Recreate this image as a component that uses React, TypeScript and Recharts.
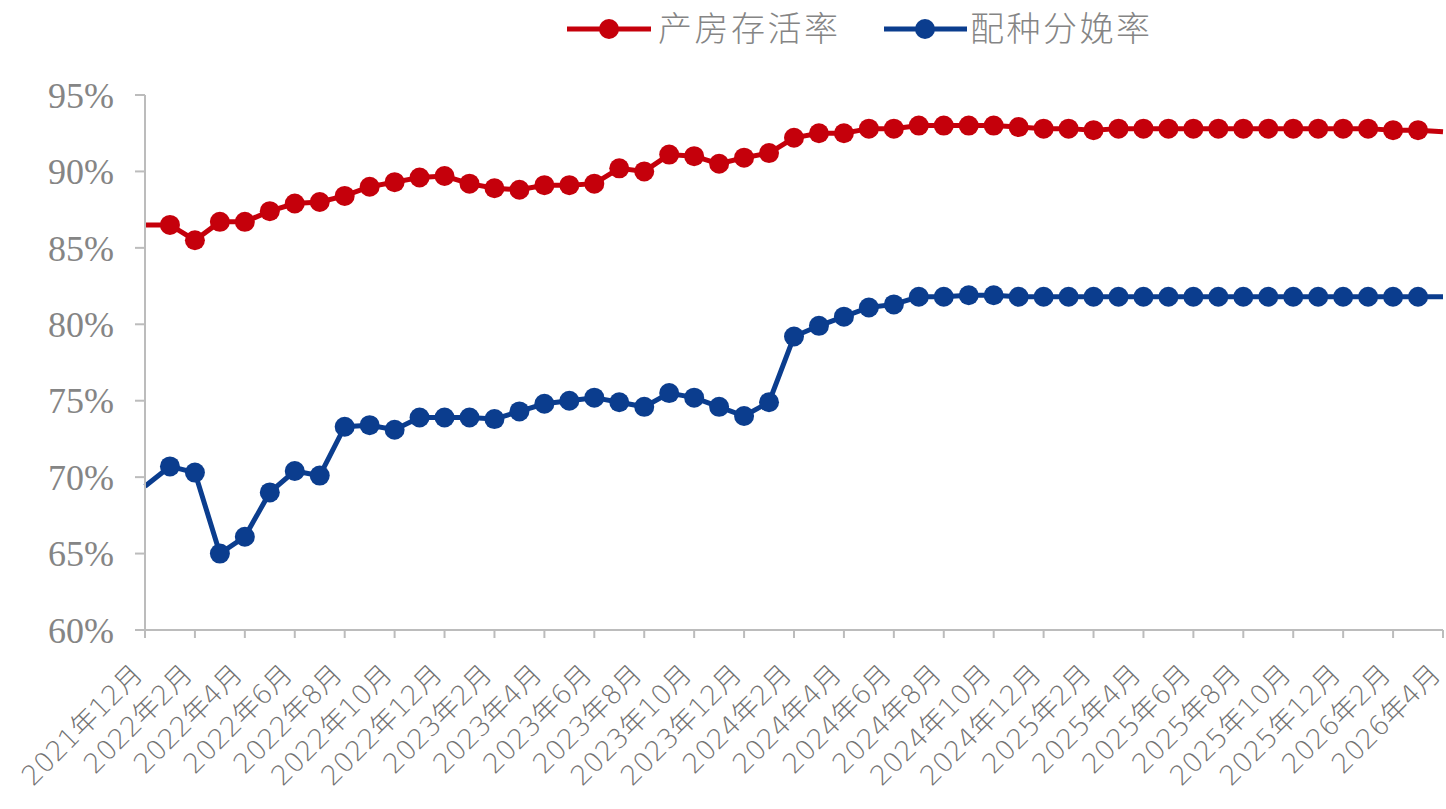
import React from 'react';
import { LineChart, Line, XAxis, YAxis, Legend } from 'recharts';

const months = [
  '2021年12月', '2022年1月', '2022年2月', '2022年3月', '2022年4月', '2022年5月', '2022年6月', '2022年7月', '2022年8月', '2022年9月', '2022年10月', '2022年11月', '2022年12月',
  '2023年1月', '2023年2月', '2023年3月', '2023年4月', '2023年5月', '2023年6月', '2023年7月', '2023年8月', '2023年9月', '2023年10月', '2023年11月', '2023年12月',
  '2024年1月', '2024年2月', '2024年3月', '2024年4月', '2024年5月', '2024年6月', '2024年7月', '2024年8月', '2024年9月', '2024年10月', '2024年11月', '2024年12月',
  '2025年1月', '2025年2月', '2025年3月', '2025年4月', '2025年5月', '2025年6月', '2025年7月', '2025年8月', '2025年9月', '2025年10月', '2025年11月', '2025年12月',
  '2026年1月', '2026年2月', '2026年3月', '2026年4月',
];

// 产房存活率 (%)
const survivalRate = [
  86.5, 86.5, 85.5, 86.7, 86.7, 87.4, 87.9, 88.0, 88.4, 89.0,
  89.3, 89.6, 89.7, 89.2, 88.9, 88.8, 89.1, 89.1, 89.2, 90.2,
  90.0, 91.1, 91.0, 90.5, 90.9, 91.2, 92.2, 92.5, 92.5, 92.8,
  92.8, 93.0, 93.0, 93.0, 93.0, 92.9, 92.8, 92.8, 92.7, 92.8,
  92.8, 92.8, 92.8, 92.8, 92.8, 92.8, 92.8, 92.8, 92.8, 92.8,
  92.7, 92.7, 92.6,
];

// 配种分娩率 (%)
const farrowingRate = [
  69.4, 70.7, 70.3, 65.0, 66.1, 69.0, 70.4, 70.1, 73.3, 73.4,
  73.1, 73.9, 73.9, 73.9, 73.8, 74.3, 74.8, 75.0, 75.2, 74.9,
  74.6, 75.5, 75.2, 74.6, 74.0, 74.9, 79.2, 79.9, 80.5, 81.1,
  81.3, 81.8, 81.8, 81.9, 81.9, 81.8, 81.8, 81.8, 81.8, 81.8,
  81.8, 81.8, 81.8, 81.8, 81.8, 81.8, 81.8, 81.8, 81.8, 81.8,
  81.8, 81.8, 81.8,
];

const yTicks = [60, 65, 70, 75, 80, 85, 90, 95];
const seriesNames = ['产房存活率', '配种分娩率'];

const data = months.map((m, i) => ({
  month: m,
  survival: survivalRate[i],
  farrowing: farrowingRate[i],
}));

const RED = '#C5000B';
const BLUE = '#0B3D8E';
const AXIS = '#BCBCBC';
const LABEL = '#858585';
const XLABEL = '#727272';
const CJK = "'Noto Sans CJK SC', 'Noto Sans', sans-serif";
const XFONT = "'DejaVu Sans', 'Noto Sans CJK SC', sans-serif";

const XTick = (props: any) => {
  const { x, y, payload } = props;
  return (
    <g transform={`translate(${x - 1},${y + 36})`}>
      <text
        x={0}
        y={0}
        transform="rotate(-45)"
        textAnchor="end"
        fontSize={27}
        fill={XLABEL}
        fontFamily={XFONT}
        fontWeight={300}
      >
        {payload.value}
      </text>
    </g>
  );
};

const makeDot = (color: string) => (props: any) => {
  const { cx, cy, index } = props;
  if (index === 0 || index === months.length - 1) {
    return <g key={`e-${color}-${index}`} />;
  }
  return <circle key={`d-${color}-${index}`} cx={cx} cy={cy} r={10} fill={color} stroke="none" />;
};

const LegendContent = () => (
  <svg width={1446} height={60} style={{ display: 'block' }}>
    <line x1={567} y1={29} x2={651} y2={29} stroke={RED} strokeWidth={5} />
    <circle cx={609} cy={29} r={10} fill={RED} />
    <text x={658} y={29} dy="0.36em" fontSize={34} letterSpacing={2.5} fill={LABEL} fontFamily={CJK} fontWeight={300}>
      {seriesNames[0]}
    </text>
    <line x1={884} y1={29} x2={967} y2={29} stroke={BLUE} strokeWidth={5} />
    <circle cx={925} cy={29} r={10} fill={BLUE} />
    <text x={970} y={29} dy="0.36em" fontSize={34} letterSpacing={2.5} fill={LABEL} fontFamily={CJK} fontWeight={300}>
      {seriesNames[1]}
    </text>
  </svg>
);

export default function App() {
  return (
    <div style={{ position: 'absolute', left: 0, top: 0, width: 1446, height: 809, background: '#fff' }}>
      <LineChart
        width={1446}
        height={809}
        data={data}
        margin={{ top: 35, right: 3, left: 0, bottom: 0 }}
      >
        <Legend
          verticalAlign="top"
          content={<LegendContent />}
          wrapperStyle={{ top: 0, left: 0, width: 1446, height: 60 }}
        />
        <XAxis
          dataKey="month"
          interval={1}
          height={179}
          axisLine={{ stroke: AXIS, strokeWidth: 2 }}
          tickLine={{ stroke: AXIS, strokeWidth: 2 }}
          tickSize={8}
          tickMargin={2}
          tick={<XTick />}
        />
        <YAxis
          width={145}
          domain={[60, 95]}
          ticks={yTicks}
          allowDataOverflow
          axisLine={{ stroke: AXIS, strokeWidth: 2 }}
          tickLine={{ stroke: AXIS, strokeWidth: 2 }}
          tickSize={10}
          tickMargin={21}
          tickFormatter={(v: number) => `${v}%`}
          tick={{ fontSize: 36, fill: LABEL, fontFamily: "'Liberation Serif', 'Times New Roman', serif" }}
        />
        <Line
          name={seriesNames[0]}
          type="linear"
          dataKey="survival"
          stroke={RED}
          strokeWidth={5}
          dot={makeDot(RED)}
          activeDot={false}
          isAnimationActive={false}
        />
        <Line
          name={seriesNames[1]}
          type="linear"
          dataKey="farrowing"
          stroke={BLUE}
          strokeWidth={5}
          dot={makeDot(BLUE)}
          activeDot={false}
          isAnimationActive={false}
        />
      </LineChart>
    </div>
  );
}
